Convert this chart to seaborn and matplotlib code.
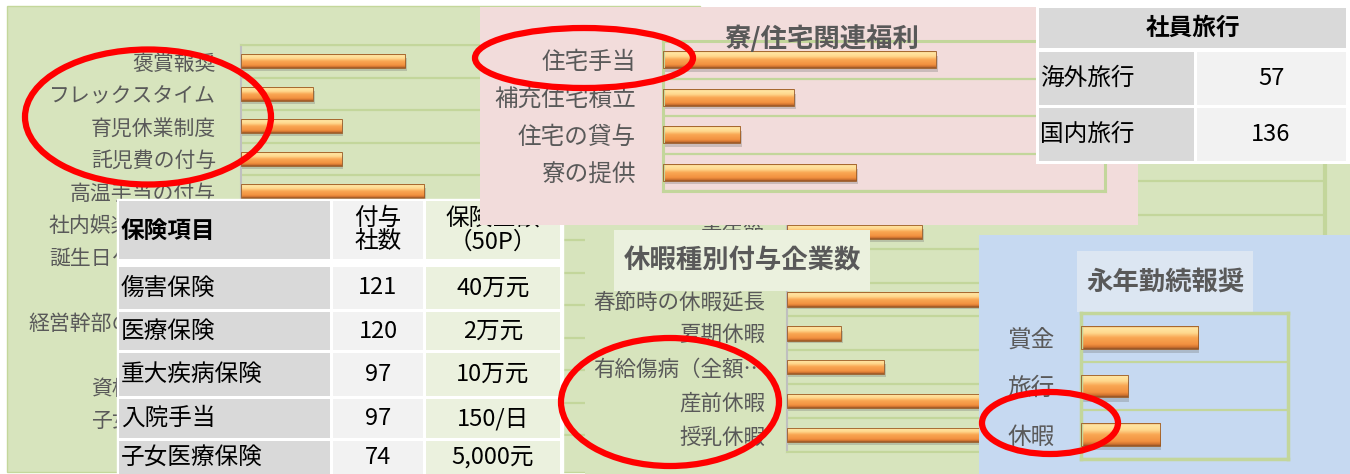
import numpy as np
import matplotlib
matplotlib.use('Agg')
import matplotlib.pyplot as plt
from matplotlib.patches import Rectangle, Ellipse
from matplotlib.colors import LinearSegmentedColormap
import seaborn as sns

sns.set_theme(style='white')
plt.rcParams['font.family'] = ['Noto Sans CJK JP', 'DejaVu Sans']

# ---- data (hidden rows are rough guesses) ----
main_labels = ['褒賞報奨', 'フレックスタイム', '育児休業制度', '託児費の付与', '高温手当の付与',
               '社内娯楽イベント', '誕生日ケーキ贈呈', '慶弔金', '経営幹部の研修旅行', '皆勤賞',
               '資格取得手当', '子女教育手当']
main_vals = [18.3, 8, 11.2, 11.2, 20.4, 25, 30, 15, 28, 12, 22, 20]

house_labels = ['住宅手当', '補充住宅積立', '住宅の貸与', '寮の提供']
house_vals = [49.4, 23.7, 14, 35]

leave_labels = ['国慶節', '労働節', '青年節', '婦女節', '春節時の休暇延長', '夏期休暇',
                '有給傷病（全額…', '産前休暇', '授乳休暇']
leave_vals = [30, 35, 25, 12, 45, 10, 18, 55, 60]

award_labels = ['賞金', '旅行', '休暇']
award_vals = [34, 13.6, 23]

ins_items = ['傷害保険', '医療保険', '重大疾病保険', '入院手当', '子女医療保険']
ins_counts = [121, 120, 97, 97, 74]
ins_amounts = ['40万元', '2万元', '10万元', '150/日', '5,000元']

trip_labels = ['海外旅行', '国内旅行']
trip_counts = [57, 136]

# ---- layout helpers (pixel coords, origin top-left) ----
W, H = 1350, 474
fig = plt.figure(figsize=(W / 100, H / 100), dpi=100)
GRID = '#C3D69B'
LABEL = '#595959'
bar_cmap = LinearSegmentedColormap.from_list('bar', [
    (0, '#E8A35E'), (0.08, '#FFE6A3'), (0.3, '#FFD88E'), (0.5, '#F9A753'),
    (0.8, '#F29140'), (0.92, '#D27430'), (1, '#8F5226')])
grad = np.linspace(0, 1, 64).reshape(-1, 1)


def box(x0, y0, x1, y1):
    return [x0 / W, 1 - y1 / H, (x1 - x0) / W, (y1 - y0) / H]


def layer(z):
    ax = fig.add_axes([0, 0, 1, 1], zorder=z)
    ax.set_xlim(0, W)
    ax.set_ylim(H, 0)
    ax.axis('off')
    return ax


def rect(ax, x0, y0, x1, y1, color, **kw):
    ax.add_patch(Rectangle((x0, y0), x1 - x0, y1 - y0, facecolor=color, **kw))


def shade(ax):
    # glossy orange look like the Excel bars
    xl, yl = ax.get_xlim(), ax.get_ylim()
    dx = (xl[1] - xl[0]) * 0.004
    for p in list(ax.patches):
        x0, y0, w, h = p.get_x(), p.get_y(), p.get_width(), p.get_height()
        ax.add_patch(Rectangle((x0, y0 + h * 0.3), w + dx, h * 0.9,
                               color='#6F6F6F', alpha=0.3, lw=0, zorder=1.5))
        im = ax.imshow(grad, cmap=bar_cmap, extent=(x0, x0 + w, y0 + h, y0),
                       aspect='auto', origin='upper', zorder=2, interpolation='bilinear')
        im.set_clip_path(p)
        p.set_facecolor('none')
        p.set_edgecolor('#9A5A24')
        p.set_linewidth(0.6)
        p.set_zorder(3)
    ax.set_xlim(xl)
    ax.set_ylim(yl)


def bars(px, labels, vals, xmax, z, width, size, pad):
    ax = fig.add_axes(box(*px), zorder=z)
    sns.barplot(x=vals, y=labels, orient='h', width=width, ax=ax, color='#F79646')
    ax.set_facecolor('none')
    ax.set_xlim(0, xmax)
    ax.set_ylim(len(labels) - 0.5, -0.5)
    ax.set_xticks([])
    ax.set_xlabel('')
    ax.set_ylabel('')
    ax.set_yticks(np.arange(len(labels) + 1) - 0.5, minor=True)
    ax.grid(False)
    ax.grid(axis='y', which='minor', color=GRID, lw=1.6)
    ax.tick_params(axis='y', which='both', length=0)
    ax.tick_params(axis='y', which='major', labelsize=size, labelcolor=LABEL, pad=pad)
    shade(ax)
    return ax


def spines(ax, left, right, top, bottom):
    for side, spec in zip(['left', 'right', 'top', 'bottom'], [left, right, top, bottom]):
        if spec is None:
            ax.spines[side].set_visible(False)
        else:
            ax.spines[side].set_color(spec[0])
            ax.spines[side].set_linewidth(spec[1])


# ---- main green chart ----
L1 = layer(1)
rect(L1, 7, 6, 700, 472, '#D7E4BD', edgecolor='#C4D79B', lw=1)
ax_main = bars((241, 45, 690, 435), main_labels, main_vals, 50, 2, 0.43, 15, 18)
spines(ax_main, ('#BFBFBF', 1.5), None, (GRID, 1.5), (GRID, 1.5))

# ---- insurance table ----
L3 = layer(3)
rect(L3, 117, 199, 563, 474, 'white')
cols = [(119, 330), (333, 423), (426, 560)]
ccol = ['#D9D9D9', '#F2F2F2', '#EBF1DE']
rows = [(267, 309), (312, 350), (353, 396), (399, 438), (441, 476)]
for (c0, c1), cc in zip(cols, ccol):
    rect(L3, c0, 201, c1, 259, cc, lw=0)
    for r0, r1 in rows:
        rect(L3, c0, r0, c1, r1, cc, lw=0)
L3.text(121, 232, '保険項目', fontsize=17, fontweight='bold', color='black', va='center')
L3.text(378, 230, '付与\n社数', fontsize=17, color='black', ha='center', va='center', linespacing=1.05)
L3.text(493, 230, '保険金額\n（50P）', fontsize=17, color='black', ha='center', va='center', linespacing=1.05)
for (r0, r1), item, cnt, amt in zip(rows, ins_items, ins_counts, ins_amounts):
    yc = (r0 + min(r1, 474)) / 2
    L3.text(121, yc, item, fontsize=17, color='black', va='center')
    L3.text(378, yc, str(cnt), fontsize=17, color='black', ha='center', va='center')
    L3.text(493, yc, amt, fontsize=17, color='black', ha='center', va='center')

# ---- leave chart (second green panel) ----
L4 = layer(4)
rect(L4, 585, 150, 1350, 474, '#D7E4BD', lw=0)
ax_leave = bars((787, 147, 1325, 452), leave_labels, leave_vals, 100, 5, 0.42, 15.5, 15.8)
spines(ax_leave, ('#BFBFBF', 1.5), (GRID, 3), None, (GRID, 1.5))
L6 = layer(6)
rect(L6, 614, 230, 870, 291, '#EBF1DE', lw=0)
L6.text(742, 261, '休暇種別付与企業数', fontsize=19, fontweight='bold', color=LABEL,
        ha='center', va='center')

# ---- housing chart (pink panel) ----
L7 = layer(7)
rect(L7, 480, 7, 1138, 225, '#F2DCDB', lw=0)
ax_house = bars((663, 41, 1105, 191), house_labels, house_vals, 80, 8, 0.45, 17, 19.4)
spines(ax_house, (GRID, 2.2), (GRID, 2.2), (GRID, 2.2), (GRID, 2.2))
L8 = layer(8.5)
L8.text(822, 39, '寮/住宅関連福利', fontsize=19, fontweight='bold', color=LABEL,
        ha='center', va='center')

# ---- staff trip table ----
L9 = layer(9)
rect(L9, 1036, 5, 1350, 164, 'white', lw=0)
rect(L9, 1039, 8, 1346, 48, '#D9D9D9', lw=0)
L9.text(1193, 28, '社員旅行', fontsize=17, fontweight='bold', color='black', ha='center', va='center')
for (r0, r1), lab, cnt in zip([(52, 105), (108, 161)], trip_labels, trip_counts):
    rect(L9, 1039, r0, 1194, r1, '#D9D9D9', lw=0)
    rect(L9, 1197, r0, 1346, r1, '#F2F2F2', lw=0)
    L9.text(1040, (r0 + r1) / 2, lab, fontsize=17, color='black', va='center')
    L9.text(1271, (r0 + r1) / 2, str(cnt), fontsize=17, color='black', ha='center', va='center')

# ---- long service award (blue panel) ----
L10 = layer(10)
rect(L10, 979, 235, 1350, 474, '#C6D9F1', lw=0)
rect(L10, 1077, 251, 1253, 312, '#DCE6F2', lw=0)
L10.text(1165, 282, '永年勤続報奨', fontsize=19, fontweight='bold', color=LABEL,
         ha='center', va='center')
ax_award = bars((1081, 313, 1288, 459), award_labels, award_vals, 60, 11, 0.46, 17, 18.7)
spines(ax_award, (GRID, 2.5), (GRID, 2.5), (GRID, 2.5), (GRID, 2.5))

# ---- red highlight circles ----
L12 = layer(20)
for cx, cy, w, h in [(148, 117, 246, 135), (584, 58, 218, 60),
                     (670, 402, 218, 128), (1050, 423, 136, 62)]:
    L12.add_patch(Ellipse((cx, cy), w, h, fill=False, edgecolor='#FF0000', lw=4.5))

fig.savefig('out.png', dpi=100)
